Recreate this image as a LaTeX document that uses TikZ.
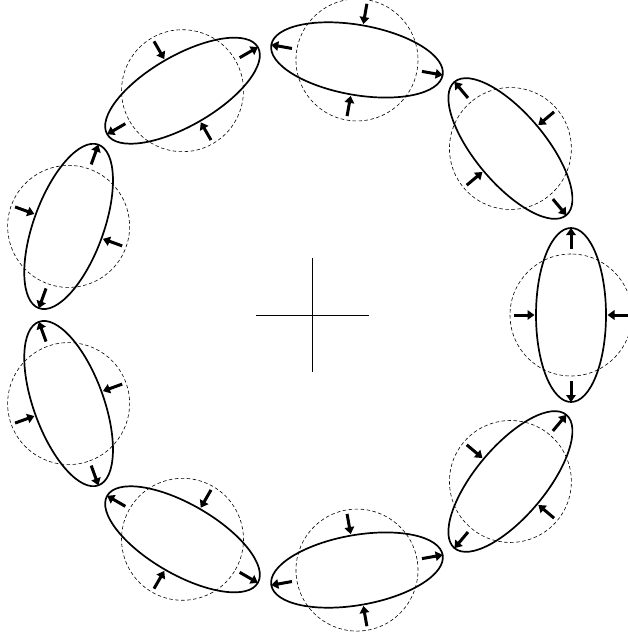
\documentclass[tikz,border=0pt]{standalone}
\usetikzlibrary{arrows.meta}
\begin{document}
\begin{tikzpicture}[x=1pt,y=1pt,
  ring/.style={draw, line width=1.7pt},
  ghost/.style={draw, line width=0.6pt, dash pattern=on 3.5pt off 2.5pt},
  push/.style={line width=3pt, -{Triangle[length=7pt,width=9.5pt]}},
  axisline/.style={line width=0.8pt}]
\useasboundingbox (0,0) rectangle (628,-639);
\coordinate (O) at (312,-315);
\coordinate (hl) at (256,-315);
\coordinate (hr) at (369,-315);
\coordinate (vt) at (312,-258);
\coordinate (vb) at (312,-372);
\draw[axisline] (hl) -- (hr);
\draw[axisline] (vt) -- (vb);
\foreach \k in {0,...,8}{
  \pgfmathsetmacro\t{40*\k}
  \begin{scope}[shift={(312,-315)}, shift={(\t:259)}, rotate=\t+90]
    \draw[ghost] (0,0) circle[radius=61];
    \draw[ring] (0,0) ellipse[x radius=87, y radius=35];
    \draw[push] (66,0) -- (87,0);
    \draw[push] (-66,0) -- (-87,0);
    \draw[push] (0,57) -- (0,36.5);
    \draw[push] (0,-57) -- (0,-36.5);
  \end{scope}
}
\end{tikzpicture}
\end{document}
